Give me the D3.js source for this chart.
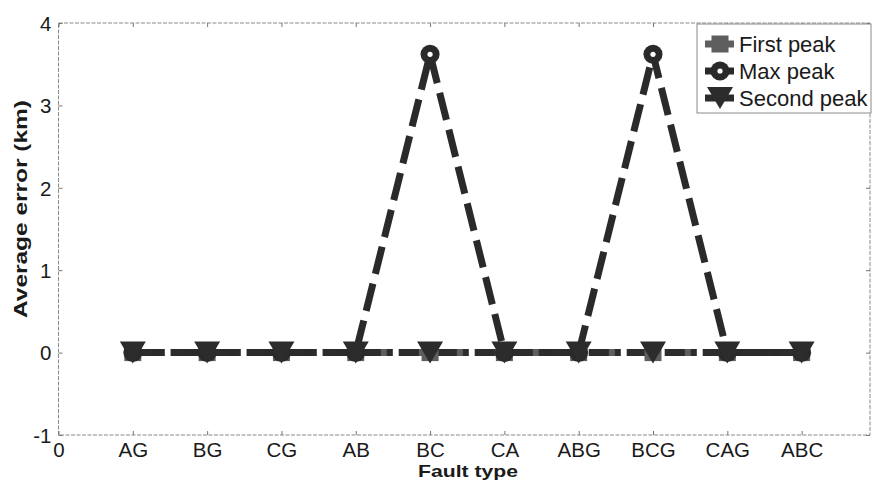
<!DOCTYPE html>
<html>
<head>
<meta charset="utf-8">
<script src="https://cdn.jsdelivr.net/npm/d3@7"></script>
<style>
  html, body { margin: 0; padding: 0; background: #fff; }
  svg { display: block; font-family: "Liberation Sans", Arial, Helvetica, sans-serif; }
</style>
</head>
<body>
<svg id="chart" width="874" height="481"></svg>
<script>
// Fault categories along the x axis (positions 1..10, position 0 is labelled "0")
const faultTypes = ["AG", "BG", "CG", "AB", "BC", "CA", "ABG", "BCG", "CAG", "ABC"];
const xTickLabels = ["0"].concat(faultTypes);
const yTickValues = [-1, 0, 1, 2, 3, 4];

// Average location error (km) per fault type
const firstPeak  = [0, 0, 0, 0, 0, 0, 0, 0, 0, 0];
const maxPeak    = [0, 0, 0, 0, 3.62, 0, 0, 3.62, 0, 0];
const secondPeak = [0, 0, 0, 0, 0, 0, 0, 0, 0, 0];

const seriesNames = ["First peak", "Max peak", "Second peak"];

const svg = d3.select("#chart");
const plotLeft = 58.5, plotRight = 870, plotTop = 23, plotBottom = 435;

const x = d3.scaleLinear().domain([0, 10.92]).range([plotLeft, plotRight]);
const y = d3.scaleLinear().domain([-1, 4]).range([plotBottom, plotTop]);

const axisColor = "#8a8a8a";
const fontFamily = "'Liberation Sans', Arial, sans-serif";

// Plot frame
svg.append("rect")
  .attr("x", plotLeft).attr("y", plotTop)
  .attr("width", plotRight - plotLeft).attr("height", plotBottom - plotTop)
  .attr("fill", "none").attr("stroke", axisColor).attr("stroke-width", 1)
  .attr("stroke-dasharray", "4,1.5");

const xTicks = d3.range(0, 11);

// Bottom axis (ticks point inward)
const gx = svg.append("g").attr("transform", `translate(0,${plotBottom})`)
  .call(d3.axisBottom(x).tickValues(xTicks).tickSize(-4).tickPadding(7.5)
    .tickFormat(i => xTickLabels[i]));
// Top axis ticks
const gxt = svg.append("g").attr("transform", `translate(0,${plotTop})`)
  .call(d3.axisTop(x).tickValues(xTicks).tickSize(-4).tickFormat(""));
// Left axis
const gy = svg.append("g").attr("transform", `translate(${plotLeft},0)`)
  .call(d3.axisLeft(y).tickValues(yTickValues).tickSize(-4).tickPadding(7)
    .tickFormat(d => String(d)));
// Right axis ticks
const gyr = svg.append("g").attr("transform", `translate(${plotRight},0)`)
  .call(d3.axisRight(y).tickValues(yTickValues).tickSize(-4).tickFormat(""));

[gx, gxt, gy, gyr].forEach(g => {
  g.attr("font-family", fontFamily).attr("font-size", 20.5);
  g.select(".domain").remove();
  g.selectAll(".tick line").attr("stroke", "#777").attr("stroke-width", 1);
  g.selectAll(".tick text").attr("fill", "#1a1a1a");
});
gx.selectAll(".tick text").attr("dy", "0.71em");
gy.selectAll(".tick text").attr("dy", "0.36em");

// Axis titles
svg.append("text")
  .attr("x", 468).attr("y", 476.5)
  .attr("text-anchor", "middle")
  .attr("font-weight", "bold").attr("font-size", 16.5).attr("fill", "#1a1a1a")
  .attr("textLength", 100).attr("lengthAdjust", "spacingAndGlyphs")
  .text("Fault type");

svg.append("text")
  .attr("transform", "translate(27,209) rotate(-90)")
  .attr("text-anchor", "middle")
  .attr("font-weight", "bold").attr("font-size", 18.5).attr("fill", "#1a1a1a")
  .attr("textLength", 218).attr("lengthAdjust", "spacingAndGlyphs")
  .text("Average error (km)");

// Series styles (dash and dash-dot patterns share one period)
const styles = [
  { name: seriesNames[0], values: firstPeak,  color: "#5e5e5e", dash: "28,10",     marker: "square" },
  { name: seriesNames[1], values: maxPeak,    color: "#2a2a2a", dash: "28,10",     marker: "circle" },
  { name: seriesNames[2], values: secondPeak, color: "#2c2c2c", dash: "20,6,6,6",  marker: "triangle" }
];

const line = d3.line().x((d, i) => x(i + 1)).y(d => y(d));

const plot = svg.append("g");

function drawMarker(g, type, cx, cy, color) {
  if (type === "square") {
    g.append("rect").attr("x", cx - 8.5).attr("y", cy - 8.5).attr("width", 17).attr("height", 17)
      .attr("fill", color);
  } else if (type === "circle") {
    g.append("circle").attr("cx", cx).attr("cy", cy).attr("r", 9.5).attr("fill", color);
    g.append("circle").attr("cx", cx).attr("cy", cy).attr("r", 2.6).attr("fill", "#fff");
  } else {
    // downward triangle, bounding box centred on the point
    const w = 13, h = 11;
    g.append("path")
      .attr("d", `M${cx - w},${cy - h}L${cx + w},${cy - h}L${cx},${cy + h}Z`)
      .attr("fill", color);
  }
}

styles.forEach(s => {
  plot.append("path")
    .datum(s.values)
    .attr("d", line)
    .attr("fill", "none")
    .attr("stroke", s.color)
    .attr("stroke-width", 7)
    .attr("stroke-dasharray", s.dash);
});
styles.forEach(s => {
  const mg = plot.append("g");
  s.values.forEach((v, i) => drawMarker(mg, s.marker, x(i + 1), y(v), s.color));
});

// Legend
const lg = svg.append("g");
lg.append("rect")
  .attr("x", 697).attr("y", 24).attr("width", 174).attr("height", 89)
  .attr("fill", "#fff").attr("stroke", "#8a8a8a").attr("stroke-width", 1);
const rowY = [44, 71, 98];
styles.forEach((s, i) => {
  const cy = rowY[i];
  lg.append("line").attr("x1", 705).attr("x2", 734).attr("y1", cy).attr("y2", cy)
    .attr("stroke", s.color).attr("stroke-width", 7);
  drawMarker(lg, s.marker, 720, cy, s.color);
  lg.append("text").attr("x", 739).attr("y", cy).attr("dy", "0.36em")
    .attr("font-family", fontFamily)
    .attr("font-size", 22).attr("fill", "#1a1a1a")
    .text(s.name);
});
</script>
</body>
</html>
